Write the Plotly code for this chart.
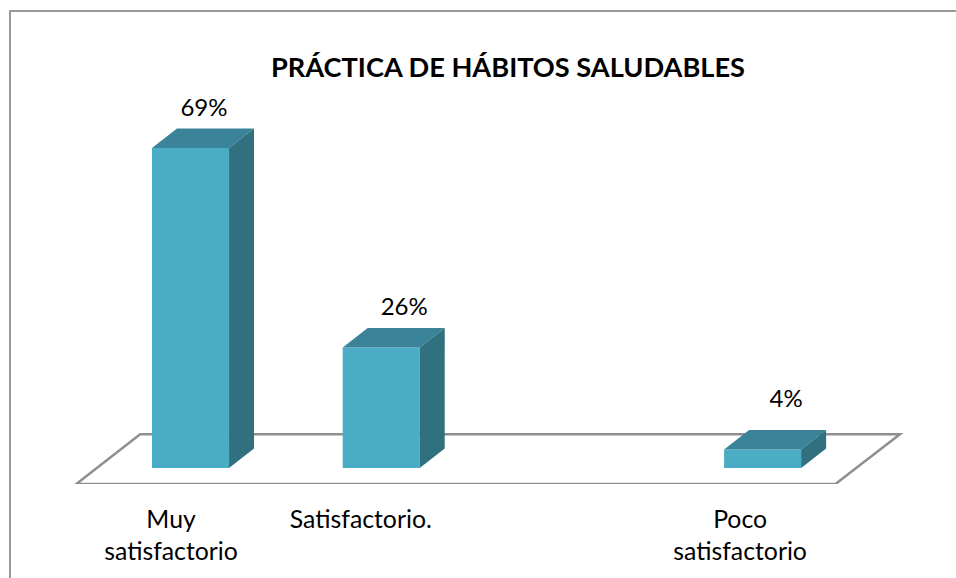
"""
Práctica de hábitos saludables - pseudo 3D column chart
"""

import plotly.graph_objects as go

categories = ['Muy<br>satisfactorio', 'Satisfactorio.', '', 'Poco<br>satisfactorio']
values = [69, 26, None, 4]
positions = [0, 1, 2, 3]
title_text = 'PRÁCTICA DE HÁBITOS SALUDABLES'

FONT = 'Lato, Carlito, Calibri, sans-serif'
FRONT = '#4bacc6'
TOP = '#3a8399'
SIDE = '#31707f'
GRID = '#8f8f8f'

WIDTH, HEIGHT = 956, 578
MARGIN_B = 94

# axis units: one category is 190.7 px, one percent is 4.64 px
BAR_WIDTH = 0.404
DEPTH_X = 0.131
DEPTH_Y = 4.2
TICK_SHIFT = [-0.102, -0.107, 0, -0.118]

# the data labels were moved by hand in the original chart
LABEL_DX = [0.005, 0.055, 0, 0.058]
LABEL_DY = [1.5, 1.5, 0, 3.7]

X_RANGE = [-0.999, 4.014]
Y_RANGE = [-3.45, 100.9]

half = BAR_WIDTH / 2

fig = go.Figure()

fig.add_trace(go.Bar(
    x=positions,
    y=values,
    width=BAR_WIDTH,
    marker=dict(color=FRONT, line=dict(width=0)),
    hoverinfo='skip'
))

for pos, val in zip(positions, values):
    if val is None:
        continue
    # top face
    fig.add_trace(go.Scatter(
        x=[pos - half, pos + half, pos + half + DEPTH_X, pos - half + DEPTH_X, pos - half],
        y=[val, val, val + DEPTH_Y, val + DEPTH_Y, val],
        mode='lines',
        fill='toself',
        fillcolor=TOP,
        line=dict(width=0),
        hoverinfo='skip'
    ))
    # side face
    fig.add_trace(go.Scatter(
        x=[pos + half, pos + half + DEPTH_X, pos + half + DEPTH_X, pos + half, pos + half],
        y=[0, DEPTH_Y, val + DEPTH_Y, val, 0],
        mode='lines',
        fill='toself',
        fillcolor=SIDE,
        line=dict(width=0),
        hoverinfo='skip'
    ))

shown = [i for i, v in enumerate(values) if v is not None]
fig.add_trace(go.Scatter(
    x=[positions[i] + DEPTH_X / 2 + LABEL_DX[i] for i in shown],
    y=[values[i] + DEPTH_Y + LABEL_DY[i] for i in shown],
    mode='text',
    text=[f'{values[i]}%' for i in shown],
    textposition='top center',
    textfont=dict(family=FONT, size=24, color='#000000'),
    hoverinfo='skip'
))

# floor of the chart, drawn under the columns
fig.add_shape(
    type='path',
    xref='x', yref='y',
    path='M -0.599 -3.45 L 3.382 -3.45 L 3.72 7.3 L -0.264 7.3 Z',
    line=dict(color=GRID, width=2.5),
    layer='below'
)

# chart frame, only top and left are in the crop
plot_h = HEIGHT - MARGIN_B
fig.add_shape(
    type='path',
    xref='paper', yref='paper',
    path=f'M {10 / WIDTH} {-MARGIN_B / plot_h} L {10 / WIDTH} {1 - 11 / plot_h} L 1 {1 - 11 / plot_h}',
    line=dict(color='#999999', width=2)
)

fig.update_layout(
    width=WIDTH,
    height=HEIGHT,
    margin=dict(l=0, r=0, t=0, b=MARGIN_B),
    showlegend=False,
    plot_bgcolor='#ffffff',
    paper_bgcolor='#ffffff',
    title=dict(
        text=f'<b>{title_text}</b>',
        x=508 / WIDTH,
        xref='container',
        xanchor='center',
        y=1 - 67 / HEIGHT,
        yref='container',
        yanchor='middle',
        font=dict(family=FONT, size=27.2, color='#000000')
    ),
    xaxis=dict(
        range=X_RANGE,
        tickmode='array',
        tickvals=[p + s for p, s, c in zip(positions, TICK_SHIFT, categories) if c],
        ticktext=[c for c in categories if c],
        tickfont=dict(family=FONT, size=24.8, color='#000000'),
        tickangle=0,
        ticks='outside',
        ticklen=13,
        tickcolor='rgba(0,0,0,0)',
        showgrid=False,
        zeroline=False,
        showline=False
    ),
    yaxis=dict(
        range=Y_RANGE,
        visible=False
    )
)

fig.write_html(
    "out.html",
    config={'displayModeBar': False},
    post_script="document.body.style.margin = '0';"
)
